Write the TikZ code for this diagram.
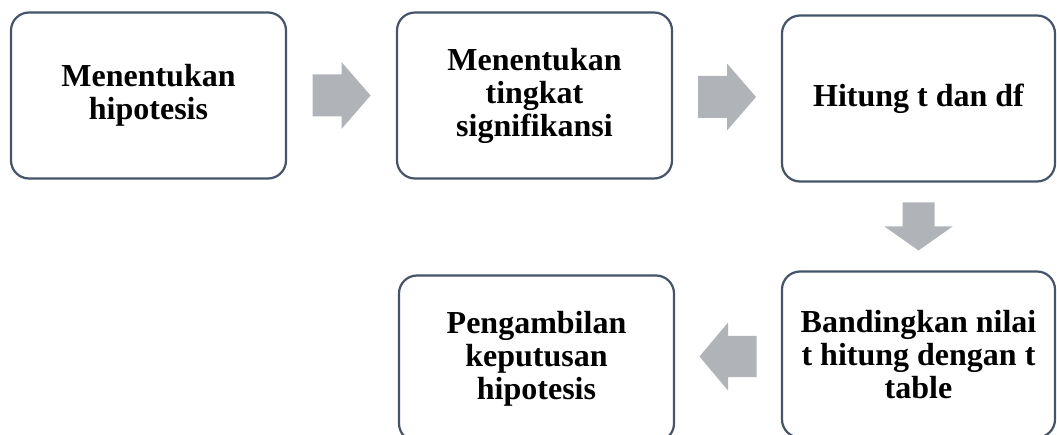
\documentclass[tikz,border=0pt]{standalone}
\usepackage{fontspec}
\setmainfont{Liberation Serif}
\usepackage{tikz}
\usetikzlibrary{calc}

\definecolor{boxline}{RGB}{68,84,106}
\definecolor{arrowgray}{RGB}{176,179,184}

\tikzset{
	stepbox/.style={draw=boxline, line width=2.2pt, rounded corners=18pt, fill=white,
		minimum width=275pt, minimum height=166pt, align=center,
		font=\fontsize{32}{33}\selectfont\bfseries},
	pics/flowarrow/.style n args={3}{code={
		\fill[arrowgray] (-#1/2,-#2/2) -- (0,-#2/2) -- (0,-#3/2) -- (#1/2,0)
			-- (0,#3/2) -- (0,#2/2) -- (-#1/2,#2/2) -- cycle;}}
}

\begin{document}
\begin{tikzpicture}[x=1pt, y=-1pt]
			\useasboundingbox (0,0) rectangle (1057,435);
			% boxes
			\node[stepbox] (hipo) at (148.5,95.5) {Menentukan\\hipotesis};
			\node[stepbox] (sig) at (534.5,95.5) {Menentukan\\tingkat\\signifikansi};
			\node[stepbox, minimum width=273pt] (hitung) at (918.5,98.5) {Hitung t dan df};
			\node[stepbox, minimum width=273pt] (banding) at (918.5,354.5) {Bandingkan nilai\\t hitung dengan t\\table};
			\node[stepbox] (ambil) at (536.5,358.5) {Pengambilan\\keputusan\\hipotesis};
			% arrows between the steps
			\pic at ($(hipo.east)!0.5!(sig.west)$) {flowarrow={58}{42}{67}};
			\pic at ($(sig.east)!0.5!(hitung.west)$) {flowarrow={58}{42}{67}};
			\pic[rotate=-90] at ($(hitung.south)!0.5!(banding.north)$) {flowarrow={48}{32}{68}};
			\pic[rotate=180] at ($(banding.west)!0.5!(ambil.east)$) {flowarrow={57}{41}{68}};
	\end{tikzpicture}
\end{document}
